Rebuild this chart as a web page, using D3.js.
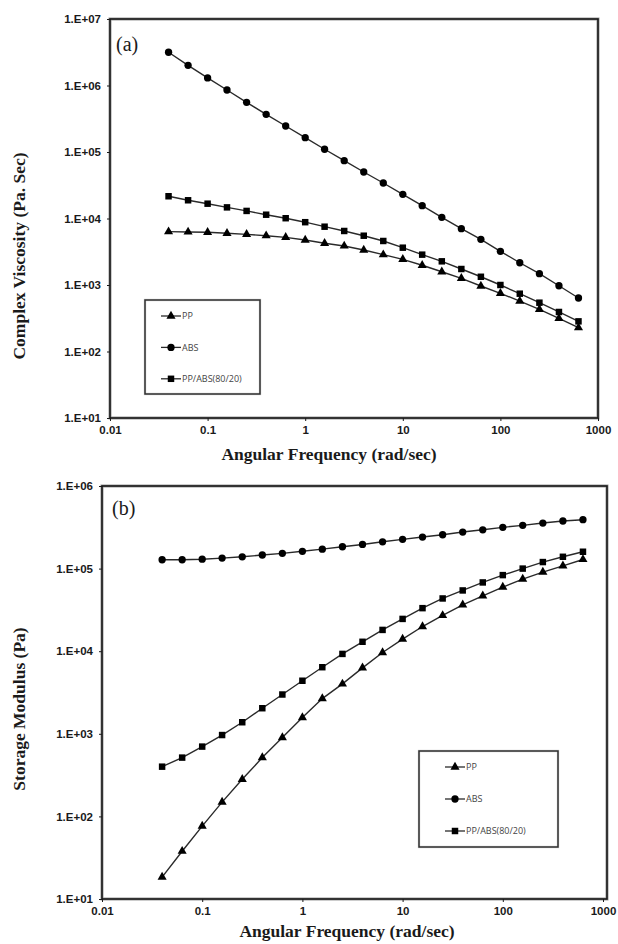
<!DOCTYPE html>
<html>
<head>
<meta charset="utf-8">
<script src="https://cdn.jsdelivr.net/npm/d3@7"></script>
<style>
  body { margin: 0; background: #fff; }
  svg { display: block; }
</style>
</head>
<body>
<script>
const width = 618;
const height = 944;

// angular frequency (rad/sec), 5 points per decade
const freq = [0.0398, 0.0631, 0.1, 0.158, 0.251, 0.398, 0.631, 1, 1.58, 2.51, 3.98,
  6.31, 10, 15.8, 25.1, 39.8, 63.1, 100, 158, 251, 398, 631];

// (a) complex viscosity (Pa.s)
const viscPP = [6340, 6270, 6200, 5990, 5780, 5510, 5210, 4750, 4240, 3860, 3360,
  2860, 2430, 1980, 1580, 1260, 966, 750, 574, 431, 316, 228];
const viscABS = [3160000, 2010000, 1300000, 856000, 559000, 369000, 246000, 164000,
  110000, 74000, 50000, 34200, 23100, 15600, 10400, 7030, 4860, 3210, 2160, 1480, 975, 638];
const viscBlend = [21600, 18800, 16700, 14700, 13000, 11400, 10100, 8800, 7530, 6490,
  5510, 4590, 3640, 2860, 2270, 1740, 1330, 1000, 740, 542, 393, 284];

// (b) storage modulus (Pa)
const storPP = [18.4, 37.9, 76.3, 149, 281, 515, 899, 1570, 2670, 4020, 6280, 9640,
  14000, 19900, 27100, 36400, 46800, 59700, 74600, 90700, 108000, 129000];
const storABS = [128000, 128000, 130000, 134000, 139000, 146000, 153000, 162000, 172000,
  184000, 196000, 211000, 226000, 241000, 257000, 277000, 295000, 316000, 334000,
  356000, 377000, 391000];
const storBlend = [400, 515, 700, 966, 1380, 2040, 2990, 4390, 6400, 9270, 13000, 18100,
  24600, 33200, 43500, 54400, 68000, 83400, 100000, 120000, 139000, 160000];

const seriesNames = ["PP", "ABS", "PP/ABS(80/20)"];
const seriesSymbols = [d3.symbolTriangle, d3.symbolCircle, d3.symbolSquare];

const xTicks = [0.01, 0.1, 1, 10, 100, 1000];
const xTickLabels = ["0.01", "0.1", "1", "10", "100", "1000"];
const yTicksA = [1e1, 1e2, 1e3, 1e4, 1e5, 1e6, 1e7];
const yTicksB = [1e1, 1e2, 1e3, 1e4, 1e5, 1e6];
const yTickLabel = (d) => "1.E+" + String(Math.round(Math.log10(d))).padStart(2, "0");

const ink = "#1a1a1a";
const lineInk = "#2a2a2a";
const tickFont = "'Liberation Sans', Arial, sans-serif";
const titleFont = "'Liberation Serif', 'Times New Roman', serif";
const legendFont = "'Open Sans', 'Liberation Sans', sans-serif";

const svg = d3.select("body").append("svg")
  .attr("width", width)
  .attr("height", height);

const drawPanel = (p) => {
  const x = d3.scaleLog().domain([0.01, 1000]).range([p.l, p.r]);
  const y = d3.scaleLog().domain(p.yDomain).range([p.b, p.t]);
  const g = svg.append("g");

  // frame
  g.append("rect")
    .attr("x", p.l).attr("y", p.t)
    .attr("width", p.frameR - p.l).attr("height", p.b - p.t)
    .attr("fill", "none").attr("stroke", "#999").attr("stroke-width", 3);
  g.append("rect")
    .attr("x", p.l).attr("y", p.t)
    .attr("width", p.frameR - p.l).attr("height", p.b - p.t)
    .attr("fill", "none").attr("stroke", ink).attr("stroke-width", 1.6);

  // axes
  const xAxis = g.append("g")
    .attr("transform", `translate(0,${p.b})`)
    .call(d3.axisBottom(x).tickValues(xTicks)
      .tickFormat((d, i) => xTickLabels[i]).tickSize(3).tickPadding(5));
  const yAxis = g.append("g")
    .attr("transform", `translate(${p.l},0)`)
    .call(d3.axisLeft(y).tickValues(p.yTicks)
      .tickFormat(yTickLabel).tickSize(3).tickPadding(6));
  [xAxis, yAxis].forEach((a) => {
    a.attr("font-size", null).attr("font-family", null);
    a.select(".domain").remove();
    a.selectAll("line").attr("stroke", ink);
    a.selectAll("text")
      .attr("fill", ink)
      .style("font-family", tickFont)
      .style("font-weight", "bold")
      .style("font-size", "11.5px");
  });

  // series
  const line = d3.line()
    .x((d) => x(d[0]))
    .y((d) => y(d[1]));
  p.series.forEach((vals, si) => {
    const pts = freq.map((f, i) => [f, vals[i]]);
    g.append("path")
      .datum(pts)
      .attr("d", line)
      .attr("fill", "none")
      .attr("stroke", lineInk)
      .attr("stroke-width", 1.4);
    g.selectAll(null)
      .data(pts)
      .join("path")
      .attr("transform", (d) => `translate(${x(d[0])},${y(d[1])})`)
      .attr("d", d3.symbol().type(seriesSymbols[si]).size(si === 0 ? 36 : 42))
      .attr("fill", "#000");
  });

  // panel tag
  g.append("text")
    .attr("x", p.tag[0]).attr("y", p.tag[1])
    .style("font-family", titleFont)
    .style("font-size", "20px")
    .attr("fill", ink)
    .text(p.tagText);

  // axis titles
  g.append("text")
    .attr("x", p.xTitle[0]).attr("y", p.xTitle[1])
    .attr("text-anchor", "middle")
    .style("font-family", titleFont)
    .style("font-weight", "bold")
    .style("font-size", "17.5px")
    .attr("fill", ink)
    .text("Angular Frequency (rad/sec)");
  g.append("text")
    .attr("transform", `translate(${p.yTitle[0]},${p.yTitle[1]}) rotate(-90)`)
    .attr("text-anchor", "middle")
    .style("font-family", titleFont)
    .style("font-weight", "bold")
    .style("font-size", "17.5px")
    .attr("fill", ink)
    .text(p.yTitleText);

  // legend
  const lg = p.legend;
  g.append("rect")
    .attr("x", lg.x).attr("y", lg.y)
    .attr("width", lg.w).attr("height", lg.h)
    .attr("fill", "#fff").attr("stroke", "#999").attr("stroke-width", 2.2);
  g.append("rect")
    .attr("x", lg.x).attr("y", lg.y)
    .attr("width", lg.w).attr("height", lg.h)
    .attr("fill", "none").attr("stroke", ink).attr("stroke-width", 1);
  seriesNames.forEach((name, si) => {
    const cy = lg.y + lg.first + si * lg.step;
    const lx = lg.x + lg.pad;
    g.append("line")
      .attr("x1", lx).attr("x2", lx + 20)
      .attr("y1", cy).attr("y2", cy)
      .attr("stroke", lineInk).attr("stroke-width", 1.3);
    g.append("path")
      .attr("transform", `translate(${lx + 10},${cy})`)
      .attr("d", d3.symbol().type(seriesSymbols[si]).size(si === 0 ? 36 : 42))
      .attr("fill", "#000");
    g.append("text")
      .attr("x", lx + 21).attr("y", cy)
      .attr("dy", "0.35em")
      .style("font-family", legendFont)
      .style("font-size", "9px")
      .attr("fill", "#444")
      .text(name);
  });
};

drawPanel({
  l: 110, r: 598, frameR: 598, t: 19, b: 418,
  yDomain: [1e1, 1e7], yTicks: yTicksA,
  series: [viscPP, viscABS, viscBlend],
  tag: [116, 51], tagText: "(a)",
  xTitle: [329, 460],
  yTitle: [25, 256], yTitleText: "Complex Viscosity (Pa. Sec)",
  legend: { x: 145, y: 300, w: 115, h: 94, pad: 16, first: 16, step: 31.4 },
});

drawPanel({
  l: 102, r: 603, frameR: 607, t: 486, b: 899,
  yDomain: [1e1, 1e6], yTicks: yTicksB,
  series: [storPP, storABS, storBlend],
  tag: [112, 515], tagText: "(b)",
  xTitle: [347, 937],
  yTitle: [25, 709], yTitleText: "Storage Modulus (Pa)",
  legend: { x: 419, y: 751, w: 139, h: 96, pad: 26, first: 16, step: 32 },
});
</script>
</body>
</html>
